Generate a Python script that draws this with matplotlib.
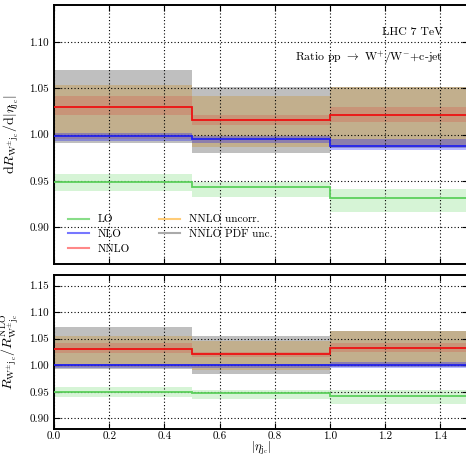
import numpy as np
import matplotlib
matplotlib.use("Agg")
import matplotlib.pyplot as plt
from matplotlib.lines import Line2D
from matplotlib.ticker import FormatStrFormatter, MultipleLocator

plt.rcParams['font.family'] = ['cmr10', 'DejaVu Serif']
plt.rcParams['mathtext.fontset'] = 'cm'
plt.rcParams['axes.formatter.use_mathtext'] = True

# ---- data ----
edges = [0.0, 0.5, 1.0, 1.5]

lo_c  = [0.949, 0.9434, 0.9309]
lo_lo = [0.939, 0.9319, 0.9158]
lo_hi = [0.957, 0.9487, 0.9409]

nlo_c  = [0.9986, 0.9954, 0.9878]
nlo_lo = [0.9928, 0.9910, 0.9828]
nlo_hi = [1.0018, 0.9985, 0.9946]

nnlo_c  = [1.0300, 1.0158, 1.0208]
nnlo_lo = [1.0215, 1.0108, 1.0132]
nnlo_hi = [1.0412, 1.0210, 1.0298]

unc_lo = [0.9946, 0.9863, 0.9860]
unc_hi = [1.0530, 1.0412, 1.0509]

pdf_lo = [0.9910, 0.9796, 0.9850]
pdf_hi = [1.0699, 1.0511, 1.0509]

labels = ["LO", "NLO", "NNLO", "NNLO uncorr.", "NNLO PDF unc."]
text_lhc = "LHC 7 TeV"
text_proc = r"Ratio pp $\rightarrow$ W$^{+}$/W$^{-}$+c-jet"

# ---- styles ----
c_lo_line, c_lo_band = "#5cd05c", (0.2, 0.8, 0.2, 0.2)
c_nlo_line, c_nlo_band = "#2222ee", (0.0, 0.0, 1.0, 0.28)
c_nnlo_line, c_nnlo_band = "#ee1111", (0.9, 0.1, 0.1, 0.18)
c_unc_band = (0.78, 0.59, 0.24, 0.38)
c_pdf_band = (0.5, 0.5, 0.5, 0.5)

fig = plt.figure(figsize=(4.66, 4.57), dpi=100)
W, H = 466.0, 457.0
ax1 = fig.add_axes([54 / W, (H - 264) / H, (468 - 54) / W, 259 / H])
ax2 = fig.add_axes([54 / W, (H - 429) / H, (468 - 54) / W, 154 / H])


def draw(ax, norm):
    n = np.asarray(norm)
    f = lambda a: np.asarray(a) / n
    ax.stairs(f(pdf_hi), edges, baseline=f(pdf_lo), fill=True, color=c_pdf_band, lw=0, zorder=1)
    ax.stairs(f(unc_hi), edges, baseline=f(unc_lo), fill=True, color=c_unc_band, lw=0, zorder=1)
    ax.stairs(f(nnlo_hi), edges, baseline=f(nnlo_lo), fill=True, color=c_nnlo_band, lw=0, zorder=1)
    ax.stairs(f(nlo_hi), edges, baseline=f(nlo_lo), fill=True, color=c_nlo_band, lw=0, zorder=1)
    ax.stairs(f(lo_hi), edges, baseline=f(lo_lo), fill=True, color=c_lo_band, lw=0, zorder=1)
    ax.stairs(f(lo_c), edges, baseline=None, color=c_lo_line, lw=1.3, zorder=3)
    ax.stairs(f(nlo_c), edges, baseline=None, color=c_nlo_line, lw=1.3, zorder=3)
    ax.stairs(f(nnlo_c), edges, baseline=None, color=c_nnlo_line, lw=1.3, zorder=3)


def style(ax):
    ax.set_xlim(0, 1.5)
    ax.xaxis.set_major_locator(MultipleLocator(0.2))
    ax.yaxis.set_major_locator(MultipleLocator(0.05))
    ax.yaxis.set_major_formatter(FormatStrFormatter('%.2f'))
    ax.xaxis.set_major_formatter(FormatStrFormatter('%.1f'))
    ax.grid(True, ls=(0, (1, 2)), color='black', lw=0.8)
    ax.tick_params(direction='in', top=True, right=True, labelsize=8, length=4, width=0.8)
    for s in ax.spines.values():
        s.set_linewidth(1.4)


draw(ax1, np.ones(3))
draw(ax2, nlo_c)
style(ax1)
style(ax2)
ax1.set_ylim(0.86, 1.14)
ax2.set_ylim(0.88, 1.17)
ax1.tick_params(labelbottom=False)
ax2.tick_params(axis='x', pad=2)

jc = r"\mathrm{j}_{\mathrm{c}}"
ax1.set_ylabel(r"$\mathrm{d}R_{\mathrm{W}^{\pm}" + jc + r"}/\mathrm{d}|\eta_{" + jc + r"}|$", fontsize=10)
ax2.set_ylabel(r"$R_{\mathrm{W}^{\pm}" + jc + r"}/R^{\mathrm{NLO}}_{\mathrm{W}^{\pm}" + jc + r"}$", fontsize=10)
ax2.set_xlabel(r"$|\eta_{" + jc + r"}|$", fontsize=9)
ax1.yaxis.set_label_coords(-0.08, 0.5)
ax2.yaxis.set_label_coords(-0.08, 0.5)
ax2.xaxis.set_label_coords(0.5, -0.07)

ax1.text(0.94, 0.896, text_lhc, transform=ax1.transAxes, ha='right', va='center', fontsize=8.5)
ax1.text(0.94, 0.795, text_proc, transform=ax1.transAxes, ha='right', va='center', fontsize=8.5)

handles = [Line2D([], [], color="#88dd88", lw=1.5),
           Line2D([], [], color="#7777ff", lw=1.5),
           Line2D([], [], color="#ff8888", lw=1.5),
           Line2D([], [], color="#ffcc77", lw=1.5),
           Line2D([], [], color="#aaaaaa", lw=1.5)]
ax1.legend(handles, labels, ncol=2, frameon=False, fontsize=8, loc='lower left',
           bbox_to_anchor=(0.01, 0.0), handlelength=1.9, columnspacing=2.6, labelspacing=0.45)

fig.savefig("out.png", dpi=100)
